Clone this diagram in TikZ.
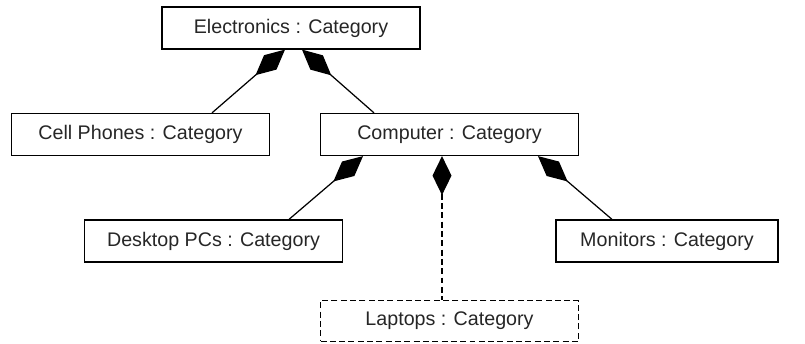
\documentclass[tikz,border=0pt]{standalone}
\usepackage{fontspec}
\setmainfont{Liberation Sans}
\usetikzlibrary{arrows.meta}
\tikzset{
    cat/.style={draw, line width=0.7pt, minimum width=5.16cm, minimum height=0.84cm,
        inner sep=0pt, font=\fontsize{11.2}{13}\selectfont, text=black!85},
    part/.style={{Diamond[length=0.78cm, width=0.38cm]}-, line width=0.7pt},
    optional/.style={dash pattern=on 3.4pt off 1.9pt},
}

\begin{document}
\begin{tikzpicture}[x=0.02cm, y=-0.02cm]
    \useasboundingbox (0, 0) rectangle (805, 344);
    \node [cat] (electronics) at (291, 28) {Electronics : Category};
    \node [cat] (phones) at (140.5, 134.5) {Cell Phones : Category};
    \node [cat] (computer) at (449.5, 134.5) {Computer : Category};
    \node [cat] (desktops) at (213.5, 241) {Desktop PCs : Category};
    \node [cat, minimum width=4.44cm] (monitors) at (667, 241) {Monitors : Category};
    \node [cat, optional, minimum height=0.82cm] (laptops) at (449.5, 321) {Laptops : Category};
    \draw [part] ([xshift=-0.12cm]electronics.south) -- ([xshift=1.43cm]phones.north);
    \draw [part] ([xshift=0.22cm]electronics.south) -- ([xshift=-1.51cm]computer.north);
    \draw [part] ([xshift=-1.73cm]computer.south) -- ([xshift=1.51cm]desktops.north);
    \draw [part, optional] ([xshift=-0.15cm]computer.south) -- ([xshift=-0.15cm]laptops.north);
    \draw [part] ([xshift=1.77cm]computer.south) -- ([xshift=-1.1cm]monitors.north);
\end{tikzpicture}
\end{document}
